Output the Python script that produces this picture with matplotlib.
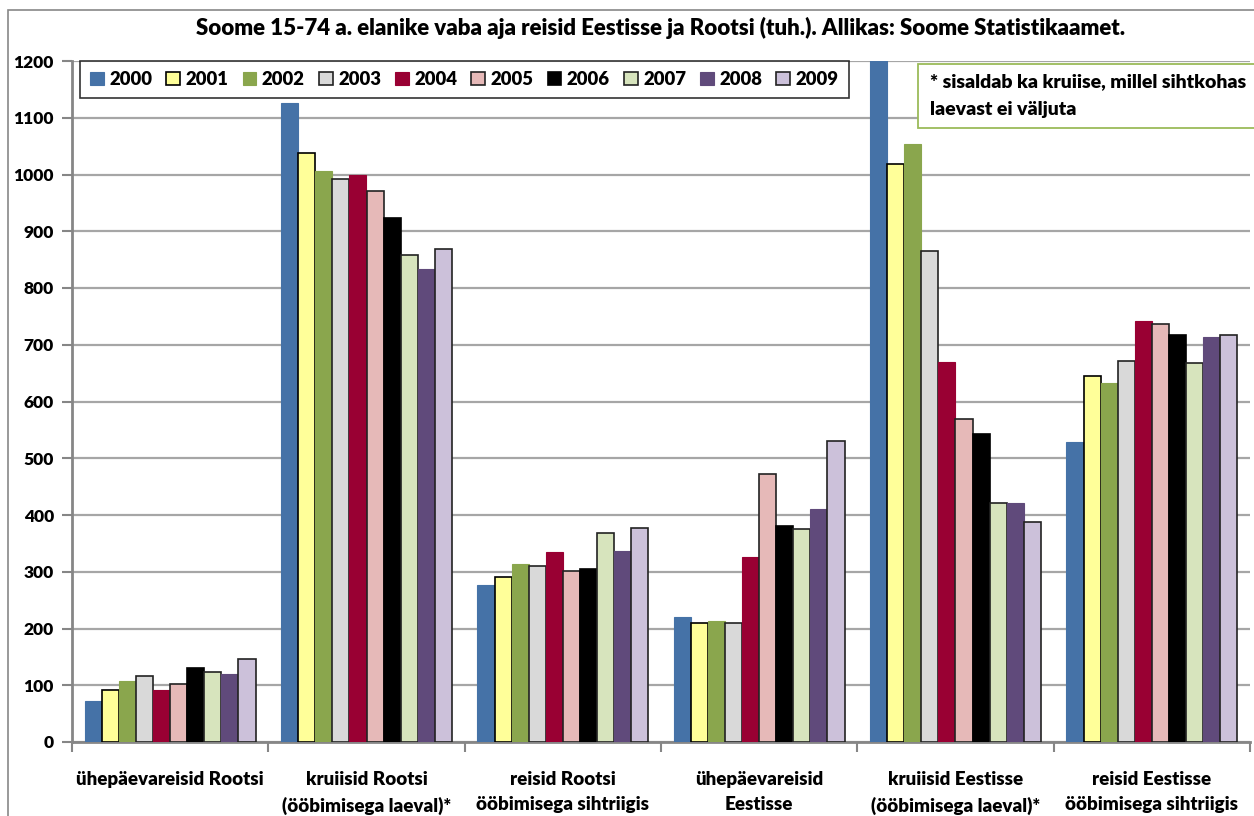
import numpy as np
import matplotlib
matplotlib.use("Agg")
import matplotlib.pyplot as plt
from matplotlib.patches import Rectangle

plt.rcParams['font.family'] = ['Lato', 'DejaVu Sans']
plt.rcParams['font.weight'] = 'bold'

categories = ["ühepäevareisid Rootsi",
              "kruiisid Rootsi\n(ööbimisega laeval)*",
              "reisid Rootsi\nööbimisega sihtriigis",
              "ühepäevareisid\nEestisse",
              "kruiisid Eestisse\n(ööbimisega laeval)*",
              "reisid Eestisse\nööbimisega sihtriigis"]
years = ["2000", "2001", "2002", "2003", "2004", "2005", "2006", "2007", "2008", "2009"]

# values per year, one entry per category (thousands)
v2000 = [72, 1126, 276, 221, 1230, 529]
v2001 = [91, 1038, 291, 210, 1019, 645]
v2002 = [108, 1007, 313, 214, 1054, 633]
v2003 = [116, 992, 310, 210, 866, 672]
v2004 = [92, 1000, 335, 326, 670, 741]
v2005 = [102, 971, 301, 472, 569, 737]
v2006 = [130, 924, 304, 380, 542, 718]
v2007 = [123, 858, 368, 375, 422, 668]
v2008 = [119, 834, 337, 410, 422, 714]
v2009 = [147, 868, 377, 530, 388, 717]
series = [v2000, v2001, v2002, v2003, v2004, v2005, v2006, v2007, v2008, v2009]

colors = ["#4572a7", "#ffff99", "#8aa64d", "#d9d9d9", "#990033",
          "#e6b9b8", "#000000", "#d7e4bd", "#604a7b", "#ccc1da"]
edges = [None, "#000000", None, "#222222", None,
         "#222222", "#000000", "#222222", None, "#222222"]

W, H = 1254, 816
fig = plt.figure(figsize=(W / 100, H / 100), dpi=100)
ax = fig.add_axes([72 / W, 1 - 742 / H, (1250 - 72) / W, (742 - 61) / H])

# outer chart border
fig.patches.append(Rectangle((8 / W, -0.1), 1.2, 1 - 10 / H + 0.1, transform=fig.transFigure,
                             fill=False, edgecolor="#888888", linewidth=1.2))

width = 1.0 / 11.5
x = np.arange(len(categories))
for i, (vals, c, e) in enumerate(zip(series, colors, edges)):
    pos = x - 0.5 + 0.75 * width + i * width
    ax.bar(pos, vals, width=width, color=c, align='edge',
           edgecolor=e if e else c, linewidth=1.2 if e else 0.8,
           label=years[i], zorder=3)

ax.set_xlim(-0.5, len(categories) - 0.5)
ax.set_ylim(0, 1200)
ax.set_yticks(range(0, 1201, 100))
ax.yaxis.grid(True, color="#a6a6a6", linewidth=1.6, zorder=0)
ax.set_axisbelow(True)

ax.set_xticks(np.arange(-0.5, len(categories) + 0.5, 1))
ax.set_xticklabels([])
ax.set_xticks(x, minor=True)
ax.set_xticklabels(categories, minor=True, fontsize=13.5, fontweight='heavy', linespacing=1.55)
ax.tick_params(axis='x', which='minor', length=0, pad=21)
ax.tick_params(axis='x', which='major', length=7, width=1.5, color="#868686", direction='out')
ax.tick_params(axis='y', length=7, width=1.5, color="#868686", labelsize=12.5, pad=6)
for lab in ax.get_yticklabels():
    lab.set_fontweight('heavy')

for s in ['top', 'right']:
    ax.spines[s].set_visible(False)
for s in ['left', 'bottom']:
    ax.spines[s].set_color("#868686")
    ax.spines[s].set_linewidth(2)

leg = ax.legend(loc='upper left', bbox_to_anchor=(8 / 1178, 1.0), ncol=10, frameon=True,
                fancybox=False, edgecolor="#000000", fontsize=13.3, handlelength=0.75,
                handleheight=0.75, handletextpad=0.3, columnspacing=0.75,
                borderpad=0.55, borderaxespad=0)
leg.get_frame().set_linewidth(1.2)
for t in leg.get_texts():
    t.set_fontweight('heavy')

# note box (runs off the right edge as in the original)
fig.patches.append(Rectangle((918 / W, 1 - 128 / H), 0.4, 64 / H, transform=fig.transFigure,
                             facecolor='white', edgecolor='#9bbb59', linewidth=1.3, zorder=5))
fig.text(930 / W, 1 - 82 / H, "* sisaldab ka kruiise, millel sihtkohas",
         ha='left', va='center', fontsize=14, fontweight='heavy', zorder=6)
fig.text(930 / W, 1 - 110 / H, "laevast ei väljuta",
         ha='left', va='center', fontsize=14, fontweight='heavy', zorder=6)

fig.text(661 / W, 1 - 28 / H,
         "Soome 15-74 a. elanike vaba aja reisid Eestisse ja Rootsi (tuh.). Allikas: Soome Statistikaamet.",
         ha='center', va='center', fontsize=16, fontweight='heavy')

fig.savefig("out.png", dpi=100)
